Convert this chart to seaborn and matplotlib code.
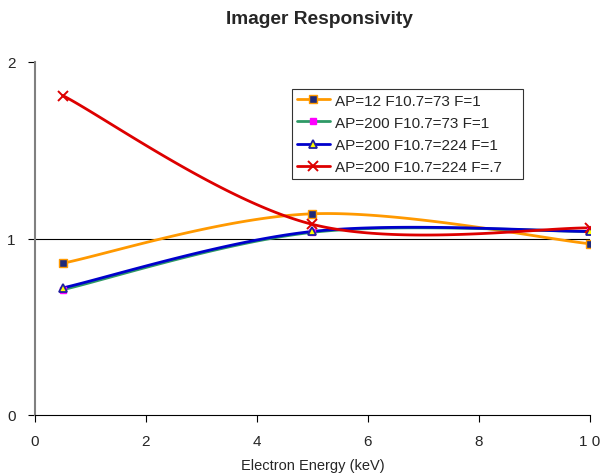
import numpy as np
import pandas as pd
import seaborn as sns
import matplotlib
matplotlib.use('Agg')
import matplotlib.pyplot as plt
from matplotlib.lines import Line2D

energy = [0.5, 5, 10]
labels = ['AP=12 F10.7=73 F=1', 'AP=200 F10.7=73 F=1',
          'AP=200 F10.7=224 F=1', 'AP=200 F10.7=224 F=.7']
ap12_f73 = [0.86, 1.14, 0.97]
ap200_f73 = [0.71, 1.035, 1.04]
ap200_f224 = [0.72, 1.04, 1.04]
ap200_f224_07 = [1.81, 1.08, 1.06]
x_ticks = [0, 2, 4, 6, 8, 10]
x_ticklabels = ['0', '2', '4', '6', '8', '1 0']
y_ticks = [0, 1, 2]


def excel_smooth(x, y, n=60):
    # bezier smoothing like excel's "smoothed line"
    p = np.column_stack([x, y]).astype(float)
    pts = []
    for i in range(len(p) - 1):
        p0 = p[i - 1] if i > 0 else p[i]
        p1, p2 = p[i], p[i + 1]
        p3 = p[i + 2] if i + 2 < len(p) else p[i + 1]
        c1 = p1 + (p2 - p0) / 6
        c2 = p2 - (p3 - p1) / 6
        t = np.linspace(0, 1, n)[:, None]
        seg = ((1 - t) ** 3) * p1 + 3 * ((1 - t) ** 2) * t * c1 + 3 * (1 - t) * t ** 2 * c2 + t ** 3 * p2
        pts.append(seg if i == 0 else seg[1:])
    pts = np.vstack(pts)
    return pts[:, 0], pts[:, 1]


sns.set_style('white')
plt.rcParams['font.family'] = ['Liberation Sans', 'DejaVu Sans']

series = [ap12_f73, ap200_f73, ap200_f224, ap200_f224_07]
colors = ['#FF9900', '#2E9966', '#0000CC', '#DD0000']
markers = [
    dict(marker='s', ms=5.5, mfc='#1F2A7A', mec='#FF9900', mew=1.0),
    dict(marker='s', ms=4, mfc='#FF00FF', mec='#FF00FF', mew=1),
    dict(marker='^', ms=5.5, mfc='#FFFF00', mec='#2020A0', mew=1.3),
    dict(marker='x', ms=7.5, mfc='none', mec='#DD0000', mew=1.4),
]

fig = plt.figure(figsize=(6.01, 4.77), dpi=100)
ax = fig.add_axes([35 / 601, 61 / 477, 555 / 601, 353 / 477])

ax.axhline(1, color='black', lw=0.8, zorder=1)

handles = []
for vals, c, mk, lab in zip(series, colors, markers, labels):
    sx, sy = excel_smooth(energy, vals)
    df = pd.DataFrame({'x': sx, 'y': sy})
    sns.lineplot(data=df, x='x', y='y', color=c, lw=2, ax=ax, sort=False, zorder=2)
    ax.plot(energy, vals, ls='none', zorder=3, **mk)
    handles.append(Line2D([], [], color=c, lw=2, **mk))

ax.set_xlim(0, 10)
ax.set_ylim(0, 2)
ax.set_xticks(x_ticks)
ax.set_xticklabels(x_ticklabels)
ax.set_yticks(y_ticks)
ax.tick_params(axis='both', direction='out', length=5, width=0.8, color='black',
               labelsize=11, bottom=True, left=True)
ax.tick_params(axis='x', pad=9)
ax.tick_params(axis='y', pad=9)
ax.set_xlabel('Electron Energy (keV)', fontsize=10.5, labelpad=7)
ax.set_ylabel('')
for side in ['top', 'right']:
    ax.spines[side].set_visible(False)
ax.spines['left'].set_color('#808080')
ax.spines['bottom'].set_color('black')
ax.spines['left'].set_linewidth(1.5)
ax.spines['bottom'].set_linewidth(0.8)

fig.text(319 / 601, 1 - 20 / 477, 'Imager Responsivity', fontsize=13.8,
         fontweight='bold', ha='center', va='center')

leg_top = (416 - 90) / 353
leg = ax.legend(handles=handles, labels=labels, loc='upper left',
                bbox_to_anchor=((292 - 35) / 555, leg_top - 0.01, 231 / 555, 0.01),
                mode='expand', fontsize=11,
                frameon=True, fancybox=False, edgecolor='black', handlelength=2.2,
                handletextpad=0.3, borderpad=0.3, labelspacing=0.54, borderaxespad=0)
leg.get_frame().set_linewidth(0.8)

fig.savefig('out.png', dpi=100)
